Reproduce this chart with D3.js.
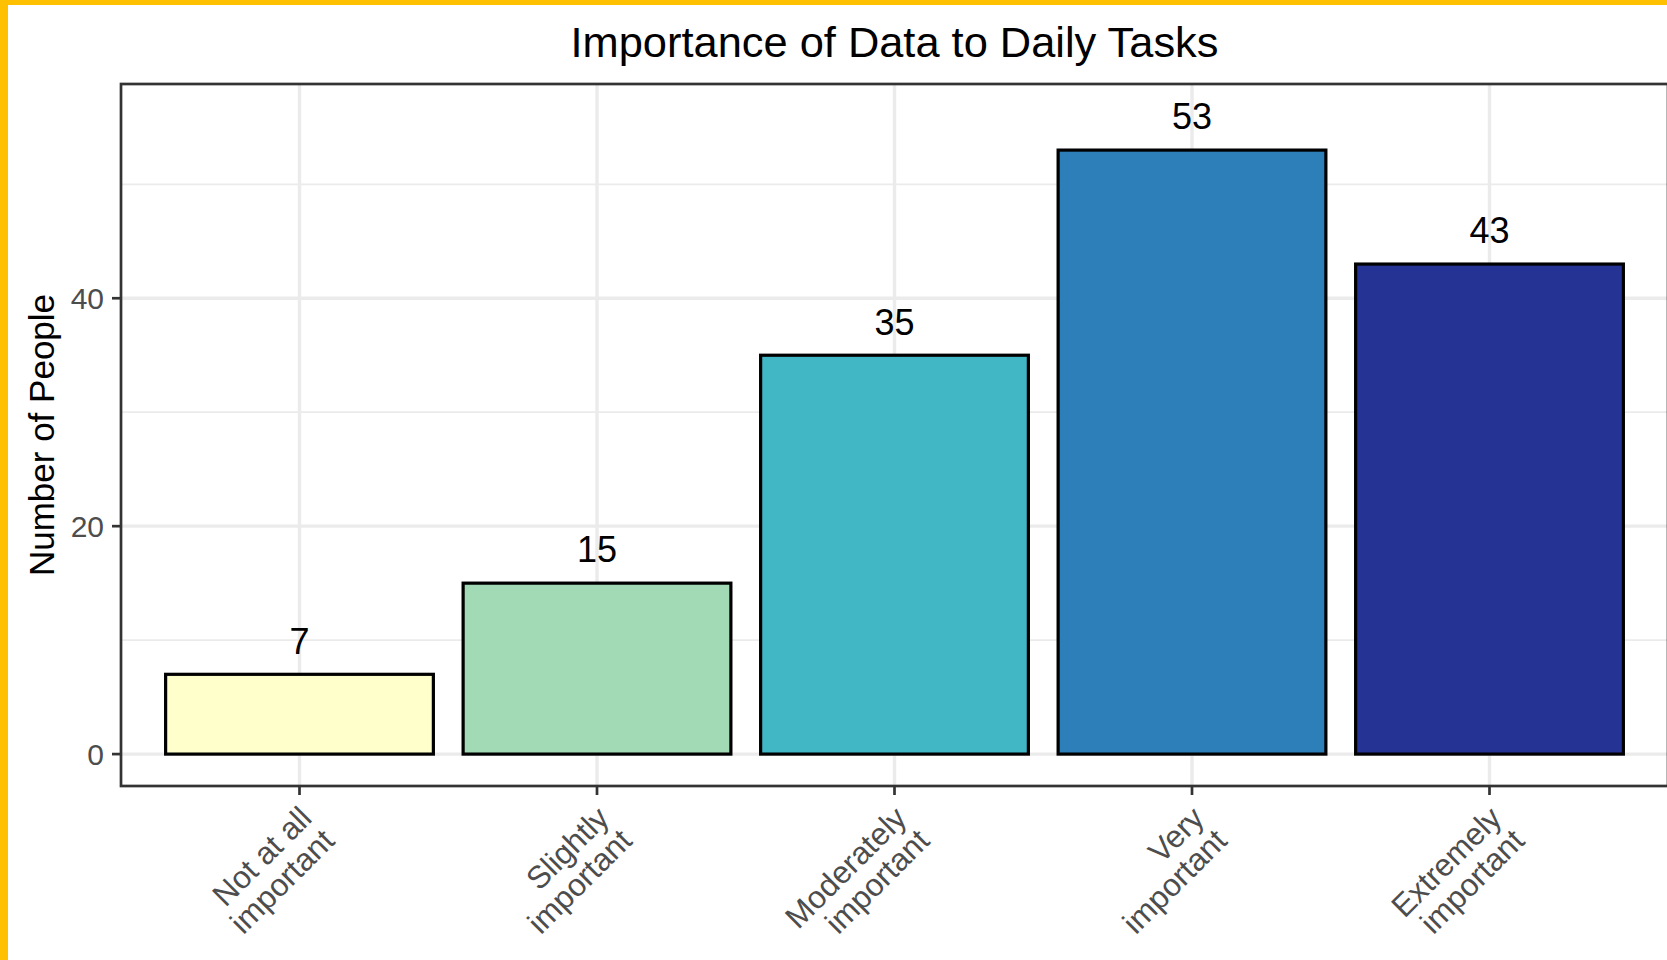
<!DOCTYPE html>
<html lang="en">
<head>
    <meta charset="UTF-8">
    <title>Importance of Data to Daily Tasks</title>
    <script src="https://d3js.org/d3.v7.min.js"></script>
    <style>
        body { margin: 0; background: #fff; }
        text { font-family: "Liberation Sans", Arial, Helvetica, sans-serif; }
    </style>
</head>
<body>
    <svg id="chart" width="1667" height="960"></svg>

    <script>
        // data
        const categories = ["Not at all important", "Slightly important", "Moderately important", "Very important", "Extremely important"];
        const lines = [["Not at all", "important"], ["Slightly", "important"], ["Moderately", "important"], ["Very", "important"], ["Extremely", "important"]];
        const counts = [7, 15, 35, 53, 43];
        const colors = ["#FFFFCC", "#A1DAB4", "#41B6C4", "#2C7FB8", "#253494"];
        const yMajor = [0, 20, 40];
        const yMinor = [10, 30, 50];
        const title = "Importance of Data to Daily Tasks";
        const yTitle = "Number of People";

        const width = 1667, height = 960;
        const panel = { left: 121, top: 84, right: 1668, bottom: 786 };

        const svg = d3.select("#chart");

        // yellow frame on the left / top edge
        svg.append("rect").attr("width", width).attr("height", height).attr("fill", "#FFC000");
        svg.append("rect").attr("x", 8).attr("y", 5).attr("width", width).attr("height", height).attr("fill", "#fff");

        // ggplot style scales (labels sit 3 above bars, 5% expansion)
        const labelOffset = 3;
        const yMax = d3.max(counts) + labelOffset;
        const x = d3.scaleBand()
            .domain(categories)
            .range([panel.left, panel.right])
            .paddingInner(0.1)
            .paddingOuter(0.15);
        const y = d3.scaleLinear()
            .domain([-yMax * 0.05, yMax * 1.05])
            .range([panel.bottom, panel.top]);

        const g = svg.append("g");

        // grid
        g.selectAll(".minor").data(yMinor).enter().append("line")
            .attr("x1", panel.left).attr("x2", panel.right)
            .attr("y1", d => y(d)).attr("y2", d => y(d))
            .attr("stroke", "#EBEBEB").attr("stroke-width", 1.7);
        g.selectAll(".major").data(yMajor).enter().append("line")
            .attr("x1", panel.left).attr("x2", panel.right)
            .attr("y1", d => y(d)).attr("y2", d => y(d))
            .attr("stroke", "#EBEBEB").attr("stroke-width", 3.4);
        g.selectAll(".vmajor").data(categories).enter().append("line")
            .attr("x1", d => x(d) + x.bandwidth() / 2).attr("x2", d => x(d) + x.bandwidth() / 2)
            .attr("y1", panel.top).attr("y2", panel.bottom)
            .attr("stroke", "#EBEBEB").attr("stroke-width", 3.4);

        // bars
        g.selectAll(".bar").data(counts).enter().append("rect")
            .attr("x", (d, i) => x(categories[i]))
            .attr("y", d => y(d))
            .attr("width", x.bandwidth())
            .attr("height", d => y(0) - y(d))
            .attr("fill", (d, i) => colors[i])
            .attr("stroke", "#000")
            .attr("stroke-width", 3.2);

        // value labels
        g.selectAll(".val").data(counts).enter().append("text")
            .attr("x", (d, i) => x(categories[i]) + x.bandwidth() / 2)
            .attr("y", d => y(d + labelOffset) + 13.5)
            .attr("text-anchor", "middle")
            .attr("font-size", 36)
            .attr("fill", "#000")
            .text(d => d);

        // panel border
        g.append("rect")
            .attr("x", panel.left).attr("y", panel.top)
            .attr("width", panel.right - panel.left).attr("height", panel.bottom - panel.top)
            .attr("fill", "none").attr("stroke", "#333333").attr("stroke-width", 2.7);

        // y axis ticks + labels
        yMajor.forEach(v => {
            g.append("line")
                .attr("x1", panel.left - 9).attr("x2", panel.left)
                .attr("y1", y(v)).attr("y2", y(v))
                .attr("stroke", "#333333").attr("stroke-width", 2.7);
            g.append("text")
                .attr("x", panel.left - 17).attr("y", y(v) + 11)
                .attr("text-anchor", "end")
                .attr("font-size", 30)
                .attr("fill", "#4D4D4D")
                .text(v);
        });

        // x axis ticks + rotated two-line labels
        categories.forEach((c, i) => {
            const cx = x(c) + x.bandwidth() / 2;
            g.append("line")
                .attr("x1", cx).attr("x2", cx)
                .attr("y1", panel.bottom).attr("y2", panel.bottom + 9)
                .attr("stroke", "#333333").attr("stroke-width", 2.7);
            const t = g.append("text")
                .attr("transform", `translate(${cx + 14},${panel.bottom + 34}) rotate(-45)`)
                .attr("text-anchor", "end")
                .attr("font-size", 31.5)
                .attr("fill", "#4D4D4D");
            lines[i].forEach((ln, j) => {
                t.append("tspan").attr("x", 0).attr("y", j * 32).text(ln);
            });
        });

        // titles
        svg.append("text")
            .attr("x", (panel.left + panel.right) / 2).attr("y", 57)
            .attr("text-anchor", "middle")
            .attr("font-size", 43.4)
            .attr("fill", "#000")
            .text(title);

        svg.append("text")
            .attr("transform", `translate(54,${(panel.top + panel.bottom) / 2}) rotate(-90)`)
            .attr("text-anchor", "middle")
            .attr("font-size", 35)
            .attr("fill", "#000")
            .text(yTitle);
    </script>
</body>
</html>
